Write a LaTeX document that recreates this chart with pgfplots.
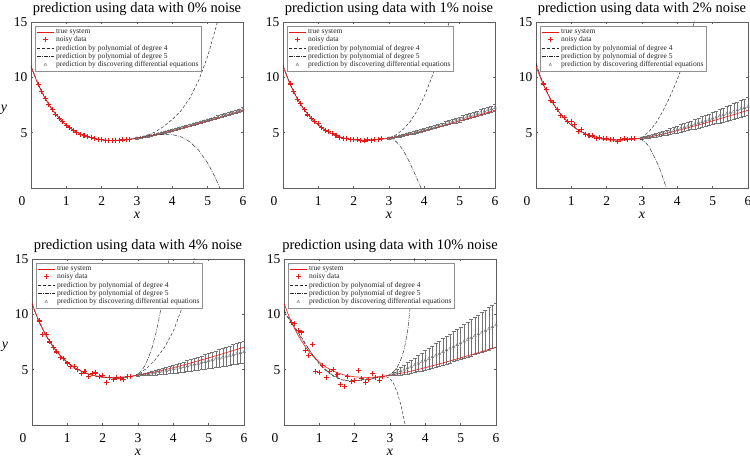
\documentclass[border=0pt]{standalone}
\usepackage{fontspec}
\setmainfont{Liberation Serif}
\usepackage{pgfplots}
\usepackage{pgfplotstable}
\pgfplotsset{compat=1.18}
\definecolor{truered}{RGB}{230,25,25}
\definecolor{predgray}{RGB}{115,115,115}
\definecolor{axgray}{RGB}{95,95,95}

\pgfplotstableread{
x y
0 11.000
0.1 10.148
0.2 9.387
0.3 8.708
0.4 8.103
0.5 7.565
0.6 7.088
0.7 6.666
0.8 6.293
0.9 5.966
1.0 5.679
1.1 5.429
1.2 5.212
1.3 5.025
1.4 4.866
1.5 4.731
1.6 4.619
1.7 4.527
1.8 4.453
1.9 4.396
2.0 4.353
2.2 4.308
2.4 4.307
2.6 4.343
2.8 4.408
3.0 4.498
3.2 4.608
3.4 4.734
3.6 4.873
3.8 5.024
4.0 5.183
4.5 5.611
5.0 6.067
5.5 6.541
6.0 7.025
}\truetab

\pgfplotstableread{
x p1 e1 p2 e2 p3 e3 p4 e4 p5 e5
3.0 4.50 .05 4.50 .05 4.50 .05 4.50 .05 4.50 .02
3.1 4.55 .05 4.56 .06 4.56 .08 4.54 .08 4.62 .16
3.2 4.61 .06 4.62 .07 4.63 .10 4.58 .11 4.74 .26
3.3 4.68 .06 4.69 .08 4.70 .13 4.63 .15 4.87 .36
3.4 4.75 .06 4.76 .08 4.78 .15 4.68 .18 5.00 .44
3.5 4.82 .07 4.84 .09 4.86 .18 4.73 .21 5.14 .52
3.6 4.89 .07 4.92 .10 4.94 .20 4.79 .24 5.27 .60
3.7 4.97 .07 5.00 .11 5.02 .23 4.85 .27 5.41 .67
3.8 5.05 .08 5.08 .12 5.11 .25 4.91 .30 5.56 .74
3.9 5.13 .08 5.17 .13 5.20 .28 4.98 .34 5.70 .81
4.0 5.21 .08 5.26 .13 5.29 .30 5.04 .37 5.85 .88
4.1 5.30 .09 5.35 .14 5.39 .33 5.11 .40 6.00 .94
4.2 5.38 .09 5.44 .15 5.48 .35 5.18 .43 6.15 1.01
4.3 5.47 .09 5.53 .16 5.58 .38 5.25 .46 6.30 1.07
4.4 5.56 .10 5.63 .17 5.68 .40 5.33 .49 6.46 1.13
4.5 5.65 .10 5.72 .18 5.78 .43 5.40 .53 6.61 1.19
4.6 5.74 .10 5.82 .18 5.88 .45 5.48 .56 6.77 1.25
4.7 5.84 .11 5.92 .19 5.98 .48 5.55 .59 6.92 1.31
4.8 5.93 .11 6.01 .20 6.08 .50 5.63 .62 7.08 1.36
4.9 6.03 .11 6.11 .21 6.18 .53 5.71 .65 7.24 1.42
5.0 6.12 .12 6.21 .22 6.29 .55 5.79 .68 7.40 1.48
5.1 6.22 .12 6.32 .23 6.39 .58 5.87 .72 7.56 1.53
5.2 6.31 .12 6.42 .23 6.50 .60 5.95 .75 7.72 1.58
5.3 6.41 .13 6.52 .24 6.60 .63 6.03 .78 7.88 1.64
5.4 6.51 .13 6.62 .25 6.71 .65 6.11 .81 8.05 1.69
5.5 6.61 .13 6.72 .26 6.82 .68 6.19 .84 8.21 1.74
5.6 6.71 .14 6.83 .27 6.92 .70 6.27 .87 8.37 1.80
5.7 6.81 .14 6.93 .28 7.03 .73 6.36 .91 8.53 1.85
5.8 6.90 .14 7.04 .28 7.14 .75 6.44 .94 8.70 1.90
5.9 7.00 .15 7.14 .29 7.25 .78 6.52 .97 8.86 1.95
6.0 7.11 .15 7.25 .30 7.36 .80 6.61 1.00 9.03 2.00
}\predtab

\pgfplotstableread{
x y
0.2 9.39
0.3 8.71
0.4 8.10
0.5 7.57
0.6 7.09
0.7 6.67
0.8 6.29
0.9 5.97
1.0 5.68
1.1 5.43
1.2 5.21
1.3 5.03
1.4 4.87
1.5 4.73
1.6 4.62
1.7 4.53
1.8 4.45
1.9 4.40
2.0 4.35
2.1 4.33
2.2 4.31
2.3 4.30
2.4 4.31
2.5 4.32
2.6 4.34
2.7 4.37
2.8 4.41
}\noiseA

\pgfplotstableread{
x y
0.2 9.40
0.3 8.75
0.4 8.00
0.5 7.60
0.6 7.10
0.7 6.60
0.8 6.30
0.9 6.00
1.0 5.80
1.1 5.50
1.2 5.20
1.3 5.10
1.4 4.90
1.5 4.75
1.6 4.60
1.7 4.50
1.8 4.45
1.9 4.40
2.0 4.40
2.1 4.35
2.2 4.30
2.3 4.25
2.4 4.35
2.5 4.30
2.6 4.35
2.7 4.40
2.8 4.45
}\noiseB

\pgfplotstableread{
x y
0.2 9.40
0.3 8.90
0.4 7.90
0.5 7.70
0.6 7.10
0.7 6.55
0.8 6.40
0.9 6.00
1.0 6.00
1.1 5.70
1.2 5.10
1.3 5.30
1.4 4.85
1.5 4.75
1.6 4.70
1.7 4.50
1.8 4.55
1.9 4.50
2.0 4.50
2.1 4.40
2.2 4.35
2.3 4.20
2.4 4.35
2.5 4.50
2.6 4.40
2.7 4.45
2.8 4.50
}\noiseC

\pgfplotstableread{
x y
0.2 9.40
0.3 8.20
0.4 8.20
0.5 7.50
0.6 7.00
0.7 6.60
0.8 6.10
0.9 6.00
1.0 5.60
1.1 5.25
1.2 5.30
1.3 5.05
1.4 4.65
1.5 4.80
1.6 4.40
1.7 4.65
1.8 4.70
1.9 4.40
2.0 4.45
2.1 3.80
2.2 4.30
2.3 4.10
2.4 4.25
2.5 4.20
2.6 4.15
2.7 4.40
2.8 4.35
}\noiseD

\pgfplotstableread{
x y
0.2 9.30
0.3 9.20
0.4 8.50
0.5 8.40
0.6 6.70
0.7 6.30
0.8 7.30
0.9 4.80
1.0 4.75
1.1 5.40
1.2 4.30
1.3 4.80
1.4 5.00
1.5 4.60
1.6 3.70
1.7 3.45
1.8 4.40
1.9 3.95
2.0 4.00
2.1 4.90
2.2 4.20
2.3 3.85
2.4 4.15
2.5 4.65
2.6 4.30
2.7 4.05
2.8 4.35
}\noiseE

\pgfplotsset{
  truesys/.style={color=truered, draw=truered, line width=0.6pt},
  noisy/.style={only marks, mark=+, mark size=2.5pt, color=truered, draw=truered, line width=1.1pt, mark options={draw=truered, solid}},
  polyfour/.style={black!85, line width=0.45pt, dash pattern=on 3pt off 2pt},
  polyfive/.style={black!85, line width=0.45pt, dash pattern=on 4pt off 1.2pt on 0.8pt off 1.2pt},
  predmark/.style={predgray, only marks, mark=triangle, mark size=1.6pt, line width=0.4pt},
  pred/.style={predmark, forget plot,
    error bars/.cd, y dir=both, y explicit,
    error bar style={predgray, line width=0.4pt},
    error mark options={rotate=90, mark size=2pt, predgray, line width=0.4pt}},
  panel/.style={
    scale only axis, width=212pt, height=166pt,
    xmin=0, xmax=6, ymin=0, ymax=15,
    xtick={1,2,3,4,5,6}, ytick={5,10,15},
    extra x ticks={0},
    extra x tick style={tick label style={xshift=-9pt}},
    tick align=inside, major tick length=2pt,
    tick style={axgray, line width=0.4pt},
    axis line style={axgray, line width=0.5pt},
    /pgf/number format/assume math mode=true,
    tick label style={font=\fontsize{13.5}{15}\selectfont},
    xticklabel style={yshift=-5pt},
    title style={font=\fontsize{14.5}{16}\selectfont, at={(axis description cs:0.5,1)}, anchor=base, yshift=3pt},
    xlabel={\textit{x}},
    xlabel style={font=\fontsize{14}{16}\selectfont, at={(axis description cs:0.5,0)}, anchor=center, yshift=-27pt},
    legend style={at={(axis description cs:0.02,0.975)}, anchor=north west,
      font=\fontsize{7.5}{8}\selectfont, draw=axgray!70, line width=0.4pt,
      inner sep=1pt, row sep=-2.5pt, text=black!85, fill=white},
    legend cell align=left,
  },
  ylab/.style={
    ylabel={\textit{y}},
    ylabel style={font=\fontsize{14}{16}\selectfont, at={(axis description cs:-0.127,0.47)}, anchor=center, rotate=-90},
  },
}
\newcommand{\legendset}{%
  \addlegendimage{truesys}\addlegendentry{true system}
  \addlegendimage{noisy}\addlegendentry{noisy data}
  \addlegendimage{polyfour}\addlegendentry{prediction by polynomial of degree 4}
  \addlegendimage{polyfive}\addlegendentry{prediction by polynomial of degree 5}
  \addlegendimage{predmark}\addlegendentry{prediction by discovering differential equations}
}

\begin{document}
\begin{tikzpicture}
\useasboundingbox (0pt,0pt) rectangle (750pt,460pt);

% ---------- panel 1 ----------
\begin{axis}[panel, ylab, at={(31pt,272pt)}, anchor=south west,
  title={prediction using data with 0\% noise}]
\legendset
\addplot[pred] table[x=x, y=p1, y error=e1] {\predtab};
\addplot[polyfour, forget plot] coordinates {(0,11.0) (0.2,9.39) (0.4,8.10) (0.6,7.09) (0.8,6.29) (1.0,5.68) (1.2,5.21) (1.4,4.87) (1.6,4.62) (1.8,4.45) (2.0,4.35) (2.2,4.31) (2.4,4.31) (2.6,4.34) (2.8,4.41) (3.0,4.50) (3.25,4.70) (3.5,5.05) (3.75,5.55) (4.0,6.2) (4.25,7.0) (4.5,8.15) (4.75,9.75) (5.0,11.9) (5.25,14.7) (5.4,16.6)};
\addplot[polyfive, forget plot] coordinates {(0,11.0) (0.2,9.39) (0.4,8.10) (0.6,7.09) (0.8,6.29) (1.0,5.68) (1.2,5.21) (1.4,4.87) (1.6,4.62) (1.8,4.45) (2.0,4.35) (2.2,4.31) (2.4,4.31) (2.6,4.34) (2.8,4.41) (3.0,4.50) (3.25,4.68) (3.5,4.80) (3.75,4.86) (4.0,4.82) (4.25,4.62) (4.5,4.17) (4.75,3.40) (5.0,2.25) (5.2,1.05) (5.4,-0.4)};
\addplot[truesys, forget plot] table {\truetab};
\addplot[noisy, forget plot] table {\noiseA};
\end{axis}

% ---------- panel 2 ----------
\begin{axis}[panel, at={(283pt,272pt)}, anchor=south west,
  title={prediction using data with 1\% noise}]
\legendset
\addplot[pred] table[x=x, y=p2, y error=e2] {\predtab};
\addplot[polyfour, forget plot] coordinates {(0,11.05) (0.2,9.39) (0.4,8.08) (0.6,7.08) (0.8,6.29) (1.0,5.69) (1.2,5.22) (1.4,4.88) (1.6,4.63) (1.8,4.46) (2.0,4.36) (2.2,4.32) (2.4,4.32) (2.6,4.36) (2.8,4.43) (3.0,4.52) (3.2,4.8) (3.4,5.3) (3.6,6.0) (3.8,7.0) (4.0,8.3) (4.2,9.9) (4.4,11.7) (4.6,13.8) (4.8,16.2)};
\addplot[polyfive, forget plot] coordinates {(0,11.1) (0.2,9.40) (0.4,8.09) (0.6,7.08) (0.8,6.29) (1.0,5.69) (1.2,5.22) (1.4,4.88) (1.6,4.63) (1.8,4.46) (2.0,4.36) (2.2,4.32) (2.4,4.33) (2.6,4.37) (2.8,4.43) (3.0,4.45) (3.1,4.4) (3.2,4.2) (3.3,3.85) (3.4,3.4) (3.5,2.85) (3.6,2.2) (3.7,1.5) (3.8,0.8) (3.9,0.05) (4.0,-0.8)};
\addplot[truesys, forget plot] table {\truetab};
\addplot[noisy, forget plot] table {\noiseB};
\end{axis}

% ---------- panel 3 ----------
\begin{axis}[panel, at={(536pt,272pt)}, anchor=south west,
  title={prediction using data with 2\% noise}]
\legendset
\addplot[pred] table[x=x, y=p3, y error=e3] {\predtab};
\addplot[polyfour, forget plot] coordinates {(0,11.2) (0.2,9.42) (0.4,8.08) (0.6,7.07) (0.8,6.29) (1.0,5.70) (1.2,5.24) (1.4,4.90) (1.6,4.66) (1.8,4.50) (2.0,4.41) (2.2,4.37) (2.4,4.37) (2.6,4.40) (2.8,4.46) (3.0,4.55) (3.2,5.1) (3.4,5.9) (3.6,7.0) (3.8,8.3) (4.0,9.8) (4.2,11.6) (4.4,13.9) (4.5,15.3)};
\addplot[polyfive, forget plot] coordinates {(0,11.3) (0.2,9.43) (0.4,8.07) (0.6,7.06) (0.8,6.29) (1.0,5.70) (1.2,5.24) (1.4,4.90) (1.6,4.66) (1.8,4.50) (2.0,4.41) (2.2,4.38) (2.4,4.39) (2.6,4.43) (2.8,4.47) (2.9,4.45) (3.0,4.35) (3.1,4.1) (3.2,3.75) (3.3,3.1) (3.4,2.5) (3.5,1.75) (3.6,0.85) (3.7,-0.1)};
\addplot[truesys, forget plot] table {\truetab};
\addplot[noisy, forget plot] table {\noiseC};
\end{axis}

% ---------- panel 4 ----------
\begin{axis}[panel, ylab, at={(32pt,35pt)}, anchor=south west,
  title={prediction using data with 4\% noise}]
\legendset
\addplot[pred] table[x=x, y=p4, y error=e4] {\predtab};
\addplot[polyfour, forget plot] coordinates {(0,10.9) (0.2,9.30) (0.4,8.05) (0.6,7.05) (0.8,6.25) (1.0,5.65) (1.2,5.18) (1.4,4.84) (1.6,4.59) (1.8,4.42) (2.0,4.31) (2.2,4.26) (2.4,4.26) (2.6,4.30) (2.8,4.38) (3.0,4.50) (3.25,5.15) (3.5,5.95) (3.75,7.0) (4.0,8.5) (4.25,10.6) (4.5,13.6) (4.6,15.2)};
\addplot[polyfive, forget plot] coordinates {(0,10.95) (0.2,9.32) (0.4,8.06) (0.6,7.05) (0.8,6.25) (1.0,5.64) (1.2,5.17) (1.4,4.83) (1.6,4.58) (1.8,4.41) (2.0,4.30) (2.2,4.25) (2.4,4.25) (2.6,4.29) (2.8,4.38) (2.9,4.45) (3.0,4.6) (3.1,4.9) (3.2,5.4) (3.3,6.1) (3.4,7.0) (3.5,8.2) (3.6,9.7) (3.7,11.4) (3.8,13.3) (3.9,15.5)};
\addplot[truesys, forget plot] table {\truetab};
\addplot[noisy, forget plot] table {\noiseD};
\end{axis}

% ---------- panel 5 ----------
\begin{axis}[panel, at={(284pt,35pt)}, anchor=south west,
  title={prediction using data with 10\% noise}]
\legendset
\addplot[pred] table[x=x, y=p5, y error=e5] {\predtab};
\addplot[polyfour, forget plot] coordinates {(0,10.2) (0.2,9.3) (0.4,8.4) (0.6,7.4) (0.8,6.35) (1.0,5.5) (1.2,4.85) (1.4,4.4) (1.6,4.1) (1.8,4.0) (2.0,4.0) (2.2,4.1) (2.4,4.2) (2.6,4.3) (2.8,4.35) (2.9,4.35) (3.0,4.2) (3.1,3.75) (3.2,3.0) (3.3,1.9) (3.4,0.5) (3.45,-0.3)};
\addplot[polyfive, forget plot] coordinates {(0,10.4) (0.2,9.3) (0.4,8.3) (0.6,7.3) (0.8,6.4) (1.0,5.6) (1.2,4.95) (1.4,4.45) (1.6,4.15) (1.8,4.0) (2.0,4.0) (2.2,4.05) (2.4,4.15) (2.6,4.25) (2.8,4.35) (3.0,4.55) (3.1,4.8) (3.2,5.2) (3.3,5.85) (3.4,6.8) (3.5,8.5) (3.6,11.5) (3.7,15.3)};
\addplot[truesys, forget plot] table {\truetab};
\addplot[noisy, forget plot] table {\noiseE};
\end{axis}
\end{tikzpicture}
\end{document}
